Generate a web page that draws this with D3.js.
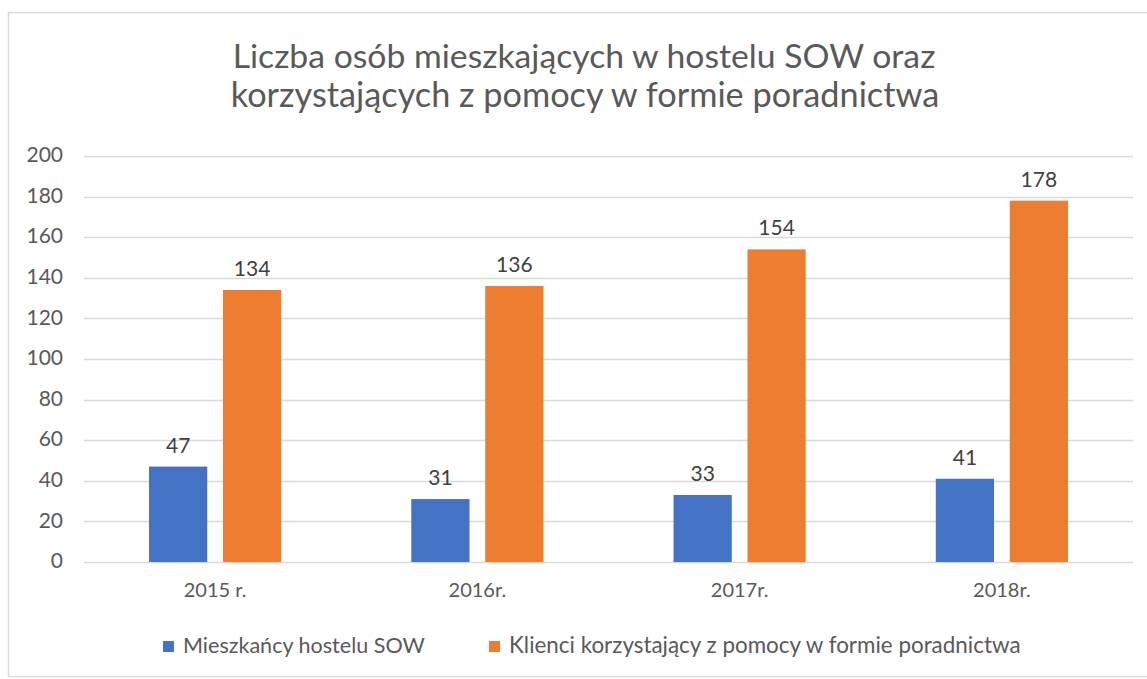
<!DOCTYPE html>
<html><head><meta charset="utf-8">
<script src="https://cdn.jsdelivr.net/npm/d3@7"></script>
<style>body{margin:0;background:#fff}svg{display:block}text{font-family:Lato,"Open Sans",sans-serif}</style>
</head><body>
<svg id="c" width="1147" height="679"></svg>
<script>
const categories = ["2015 r.", "2016r.", "2017r.", "2018r."];
const seriesNames = ["Mieszkańcy hostelu SOW", "Klienci korzystający z pomocy w formie poradnictwa"];
const residents = [47, 31, 33, 41];
const clients = [134, 136, 154, 178];
const yTicks = [0, 20, 40, 60, 80, 100, 120, 140, 160, 180, 200];
const titleLines = ["Liczba osób mieszkających w hostelu SOW oraz", "korzystających z pomocy w formie poradnictwa"];
const colors = ["#4472C4", "#ED7D31"];

const svg = d3.select("#c");
const textColor = "#595959";
const ff = "Lato,'Open Sans',sans-serif";

svg.append("rect").attr("x", 8.5).attr("y", 12.5).attr("width", 1160).attr("height", 664)
  .attr("fill", "#fff").attr("stroke", "#D9D9D9").attr("stroke-width", 1.5);

function fit(sel, target) {
  const w = sel.node().getComputedTextLength();
  const fs = parseFloat(sel.attr("font-size"));
  sel.attr("font-size", fs * target / w);
}

// title
const tl = svg.append("g");
const t1 = tl.append("text").attr("x", 584).attr("y", 68).attr("text-anchor", "middle")
  .attr("font-size", 30).attr("fill", textColor).text(titleLines[0]);
fit(t1, 703);
const t2 = tl.append("text").attr("x", 585).attr("y", 107).attr("text-anchor", "middle")
  .attr("font-size", 30).attr("fill", textColor).text(titleLines[1]);
fit(t2, 709);

const x0 = d3.scaleBand().domain(categories).range([84, 1133]);
const y = d3.scaleLinear().domain([0, 200]).range([562, 156]);

// gridlines
svg.append("g").selectAll("line").data(yTicks).join("line")
  .attr("x1", 84).attr("x2", 1133)
  .attr("y1", d => Math.round(y(d)) + 0.5).attr("y2", d => Math.round(y(d)) + 0.5)
  .attr("stroke", "#D9D9D9").attr("stroke-width", 1.3);

// y axis
const yAxis = d3.axisLeft(y).tickValues(yTicks).tickSize(0).tickPadding(0);
const yg = svg.append("g").attr("transform", "translate(63,-1)").call(yAxis);
yg.select(".domain").remove();
yg.attr("font-size", null).attr("font-family", null);
yg.selectAll("text").attr("font-size", 21).attr("fill", textColor).attr("font-family", ff);

// x axis
const xAxis = d3.axisBottom(x0).tickSize(0).tickPadding(0);
const xg = svg.append("g").attr("transform", "translate(0,597)").call(xAxis);
xg.select(".domain").remove();
xg.attr("font-size", null).attr("font-family", null);
xg.selectAll("text").attr("dy", null).attr("font-size", 20).attr("fill", textColor).attr("font-family", ff);

// bars
const bw = x0.bandwidth();
const barW = bw * 0.222, gap = bw * 0.06;
const data = categories.map((c, i) => ({c, vals: [residents[i], clients[i]]}));
const groups = svg.append("g").selectAll("g").data(data).join("g")
  .attr("transform", d => `translate(${x0(d.c) + bw / 2},0)`);
groups.selectAll("rect").data(d => d.vals).join("rect")
  .attr("x", (v, j) => j === 0 ? -gap / 2 - barW : gap / 2)
  .attr("width", barW)
  .attr("y", v => y(v)).attr("height", v => y(0) - y(v))
  .attr("fill", (v, j) => colors[j]);
groups.selectAll("text").data(d => d.vals).join("text")
  .attr("x", (v, j) => j === 0 ? -gap / 2 - barW / 2 : gap / 2 + barW / 2)
  .attr("y", v => y(v) - 14)
  .attr("text-anchor", "middle").attr("font-size", 21).attr("fill", "#404040")
  .text(v => v);

// legend
const legX = [163, 489], legTextW = [242, 512];
const lg = svg.append("g");
seriesNames.forEach((n, i) => {
  lg.append("rect").attr("x", legX[i]).attr("y", 641).attr("width", 11).attr("height", 11).attr("fill", colors[i]);
  const t = lg.append("text").attr("x", legX[i] + 20).attr("y", 653).attr("font-size", 17).attr("fill", textColor).text(n);
  fit(t, legTextW[i]);
});
</script>
</body></html>
